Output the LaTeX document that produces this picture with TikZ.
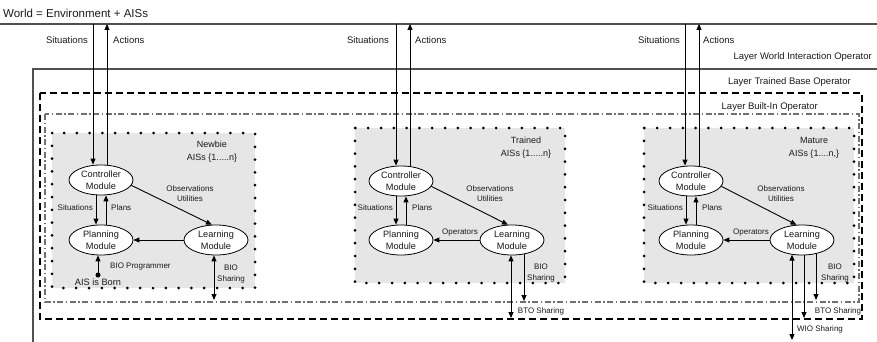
\documentclass[tikz,border=0pt]{standalone}
\usepackage{fontspec}
\setmainfont{Liberation Sans}
\usetikzlibrary{arrows.meta,calc,shapes.geometric}
\definecolor{linegray}{HTML}{505050}
\definecolor{boxfill}{HTML}{E6E6E6}
\definecolor{txt}{HTML}{1A1A1A}
\definecolor{dashdot}{HTML}{707070}
\begin{document}
\begin{tikzpicture}[x=1pt,y=-1pt,
  arr/.style={-{Triangle[length=6pt,width=5pt]}, line width=0.9pt, black},
  darr/.style={{Triangle[length=6pt,width=5pt]}-{Triangle[length=6pt,width=5pt]}, line width=0.9pt, black},
  module/.style={ellipse, draw, fill=white, line width=0.8pt, minimum width=64pt, minimum height=30pt, inner sep=0pt, align=center, font=\fontsize{9.2}{12}\selectfont, text=txt},
  lbl/.style={inner sep=0pt, font=\fontsize{8}{10}\selectfont, text=txt, align=center},
  sharelbl/.style={inner sep=0pt, font=\fontsize{8}{11}\selectfont, text=txt, align=center},
  toplbl/.style={inner sep=0pt, font=\fontsize{9.5}{11}\selectfont, text=txt},
  agelbl/.style={inner sep=0pt, font=\fontsize{9}{13}\selectfont, text=txt, align=center},
  worldline/.style={linegray, line width=1.2pt},
  btobox/.style={black, line width=1.3pt, dash pattern=on 7pt off 4pt},
  biobox/.style={dashdot, line width=1.2pt, dash pattern=on 6pt off 2.5pt on 1.5pt off 2.5pt},
  dotbox/.style={black, line width=3pt, dash pattern=on 0pt off 12.8pt, line cap=round}
]
\useasboundingbox (0,0) rectangle (877,342);

% world
\node[anchor=west, inner sep=0pt, font=\fontsize{11.5}{13}\selectfont, text=txt] (title) at (3,13) {World = Environment + AISs};
\draw[worldline] (0,24) -- (877,24);

% layers
\draw[worldline] (877,69) -- (33,69) -- (33,342);
\draw[btobox] (40,93) rectangle (862,319);
\draw[biobox] (45,114) rectangle (859,302);
\node[toplbl, anchor=east] (lwio) at (872,57) {Layer World Interaction Operator};
\node[toplbl, anchor=east] (lbto) at (851,82) {Layer Trained Base Operator};
\node[toplbl, anchor=east] (lbio) at (818,107) {Layer Built-In Operator};

% agent boxes
\fill[boxfill] (52,133) rectangle (255,288);
\draw[dotbox] (52,133) rectangle (255,288);
\fill[boxfill] (355,128) rectangle (565,283);
\draw[dotbox] (355,128) rectangle (565,283);
\fill[boxfill] (644,128) rectangle (854,283);
\draw[dotbox] (644,128) rectangle (854,283);

% ---------- Box 1: Newbie ----------
\node[module] (c1) at (101,180) {Controller\\Module};
\node[module] (p1) at (101,240) {Planning\\Module};
\node[module] (l1) at (216,240) {Learning\\Module};
\node[agelbl] (n1) at (212,152) {Newbie\\AISs \{1.....n\}};
\coordinate (s1) at (93,24);
\coordinate (a1) at (107,24);
\draw[arr] (s1) -- (s1 |- c1.north);
\draw[arr] (a1 |- c1.north) -- (a1);
\node[toplbl, anchor=east] (s1l) at (88,40) {Situations};
\node[toplbl, anchor=west] (a1l) at (113,40) {Actions};
\draw[arr] ($(c1.south)+(-5,0)$) -- ($(p1.north)+(-5,0)$);
\draw[arr] ($(p1.north)+(5,0)$) -- ($(c1.south)+(5,0)$);
\node[lbl, anchor=east] (is1) at (93,208) {Situations};
\node[lbl, anchor=west] (ip1) at (111,208) {Plans};
\draw[arr] (c1.-10) -- (l1.105);
\node[lbl] (o1) at (190,194) {Observations\\Utilities};
\draw[arr] (l1.west) -- (p1.east);
\coordinate (born) at (98,275);
\fill (born) circle (2.5pt);
\draw[arr] (born) -- (born |- p1.south);
\node[lbl, anchor=west] (bp1) at (110,267) {BIO Programmer};
\node[inner sep=0pt, font=\fontsize{9.2}{11}\selectfont, text=txt] (ab1) at (98,282) {AIS is Born};
\coordinate (bs1) at (214,300);
\draw[darr] ($(l1.south)+(-2,0)$) -- (bs1);
\node[sharelbl] (bsl1) at (231,274) {BIO\\Sharing};

% ---------- Box 2: Trained ----------
\node[module] (c2) at (401,181) {Controller\\Module};
\node[module] (p2) at (401,240) {Planning\\Module};
\node[module] (l2) at (512,240) {Learning\\Module};
\node[agelbl] (n2) at (526,148) {Trained\\AISs \{1.....n\}};
\coordinate (s2) at (396,24);
\coordinate (a2) at (410,24);
\draw[arr] (s2) -- (s2 |- c2.north);
\draw[arr] (a2 |- c2.north) -- (a2);
\node[toplbl, anchor=east] (s2l) at (389,40) {Situations};
\node[toplbl, anchor=west] (a2l) at (415,40) {Actions};
\draw[arr] ($(c2.south)+(-5,0)$) -- ($(p2.north)+(-5,0)$);
\draw[arr] ($(p2.north)+(5,0)$) -- ($(c2.south)+(5,0)$);
\node[lbl, anchor=east] (is2) at (393,208) {Situations};
\node[lbl, anchor=west] (ip2) at (412,208) {Plans};
\draw[arr] (c2.-10) -- (l2.105);
\node[lbl] (o2) at (490,194) {Observations\\Utilities};
\draw[arr] (l2.west) -- (p2.east);
\node[lbl] (op2) at (460,233) {Operators};
\coordinate (bt2) at (511,318);
\coordinate (bi2) at (524,301);
\draw[darr] ($(l2.south)+(-1,0)$) -- (bt2);
\draw[arr] ($(l2.south)+(12,-1)$) -- (bi2);
\node[sharelbl] (bsl2) at (541,273) {BIO\\Sharing};
\node[lbl] (bts2) at (541,311) {BTO Sharing};

% ---------- Box 3: Mature ----------
\node[module] (c3) at (691,181) {Controller\\Module};
\node[module] (p3) at (691,240) {Planning\\Module};
\node[module] (l3) at (802,240) {Learning\\Module};
\node[agelbl] (n3) at (814,148) {Mature\\AISs \{1....n,\}};
\coordinate (s3) at (685,24);
\coordinate (a3) at (699,24);
\draw[arr] (s3) -- (s3 |- c3.north);
\draw[arr] (a3 |- c3.north) -- (a3);
\node[toplbl, anchor=east] (s3l) at (680,40) {Situations};
\node[toplbl, anchor=west] (a3l) at (703,40) {Actions};
\draw[arr] ($(c3.south)+(-5,0)$) -- ($(p3.north)+(-5,0)$);
\draw[arr] ($(p3.north)+(5,0)$) -- ($(c3.south)+(5,0)$);
\node[lbl, anchor=east] (is3) at (683,208) {Situations};
\node[lbl, anchor=west] (ip3) at (702,208) {Plans};
\draw[arr] (c3.-10) -- (l3.110);
\node[lbl] (o3) at (781,194) {Observations\\Utilities};
\draw[arr] (l3.west) -- (p3.east);
\node[lbl] (op3) at (751,233) {Operators};
\coordinate (wi3) at (792,340);
\coordinate (bt3) at (804,318);
\coordinate (bi3) at (816,300);
\draw[darr] ($(l3.south)+(-10,-0.8)$) -- (wi3);
\draw[arr] ($(l3.south)+(2,0)$) -- (bt3);
\draw[arr] ($(l3.south)+(14,-1.5)$) -- (bi3);
\node[sharelbl] (bsl3) at (835,273) {BIO\\Sharing};
\node[lbl] (bts3) at (838,311) {BTO Sharing};
\node[lbl] (wis3) at (820,329) {WIO Sharing};
\end{tikzpicture}
\end{document}
